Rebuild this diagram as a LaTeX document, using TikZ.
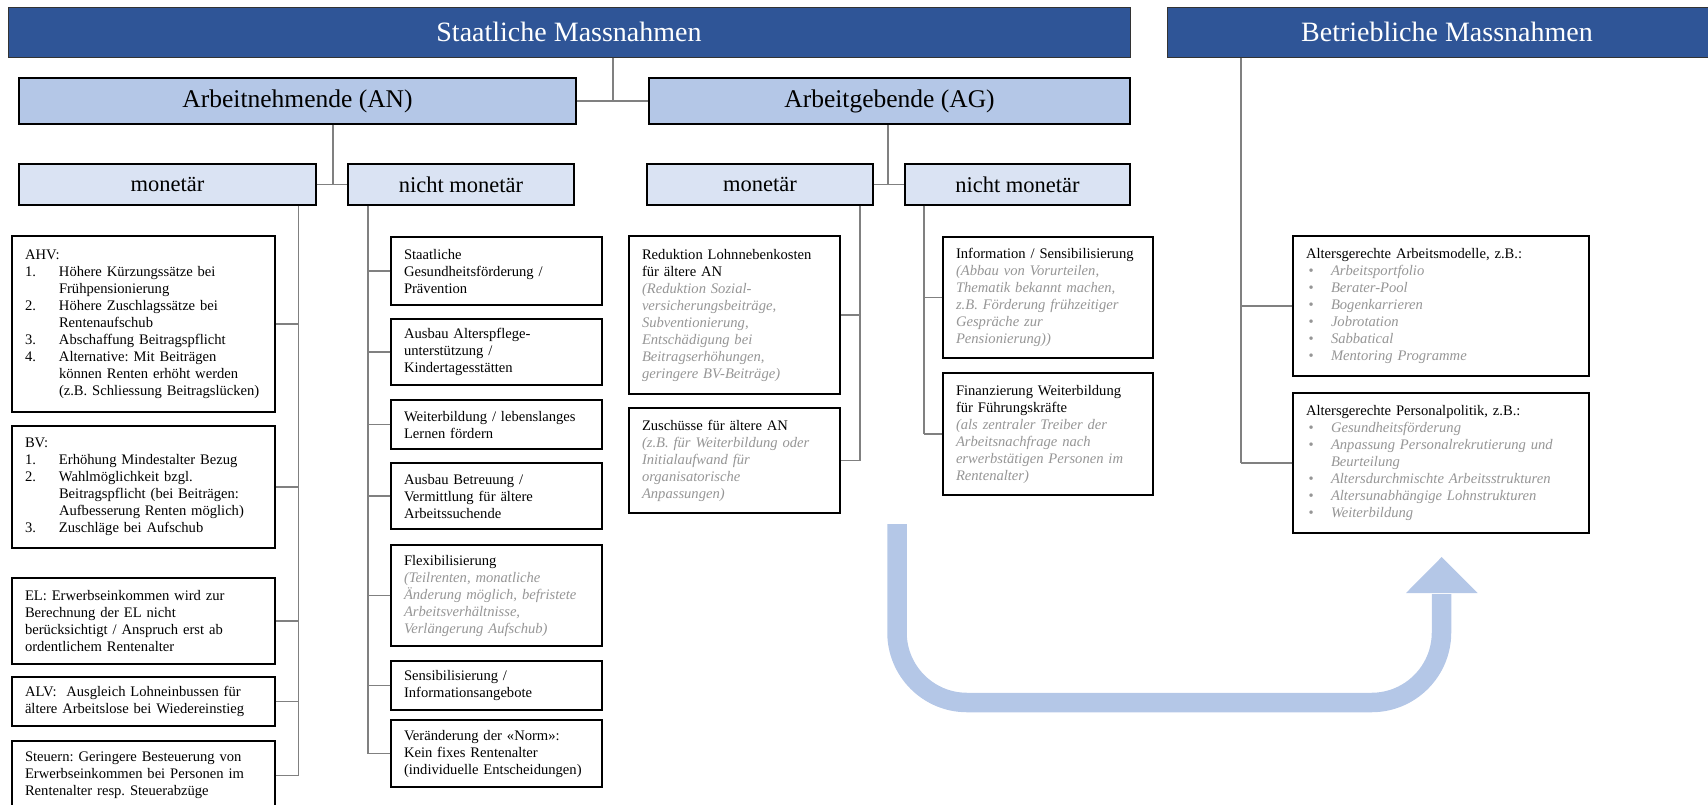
\documentclass[tikz,border=0pt]{standalone}
\usepackage{fontspec}
\setmainfont{Liberation Serif}
\definecolor{titleblue}{RGB}{47, 85, 151}
\definecolor{groupblue}{RGB}{180, 199, 231}
\definecolor{subblue}{RGB}{218, 227, 243}
\definecolor{notegray}{RGB}{150, 150, 150}
\definecolor{linegray}{RGB}{128, 128, 128}
\usepackage{tikz}
\frenchspacing
\newcommand{\grnote}[1]{{\color{notegray}\itshape #1}}
\newcommand{\numitem}[2]{\par\hangindent=34pt\hangafter=1\makebox[34pt][l]{#1}#2\par}
\newcommand{\dotitem}[1]{\par\hangindent=25pt\hangafter=1\makebox[25pt][l]{\hspace{2.5pt}{\color{notegray}\textbullet}}\grnote{#1}\par}

\begin{document}
\begin{tikzpicture}[x=1pt, y=-1pt,
  titlebox/.style={draw=black!80, line width=1pt, fill=titleblue, text=white, font=\fontsize{28}{30}\selectfont, inner sep=0pt},
  groupbox/.style={draw=black, line width=1.4pt, fill=groupblue, font=\fontsize{25.5}{28}\selectfont, inner sep=0pt},
  subbox/.style={draw=black, line width=1.4pt, fill=subblue, font=\fontsize{22.5}{25}\selectfont, inner sep=0pt},
  itembox/.style={draw=black, line width=1.5pt, fill=white, align=left, font=\fontsize{14.6}{17}\selectfont, inner xsep=13pt, inner ysep=0pt},
  conn/.style={draw=linegray, line width=1.1pt},
  uturn/.style={draw=groupblue, line width=19.5pt, rounded corners=70pt}
]
  \useasboundingbox (0,0) rectangle (1708,804);
  \clip (0,0) rectangle (1708,804);

  % Ebenen oben
  \node[titlebox, minimum width=1122pt, minimum height=50pt] (staat) at (569,32) {Staatliche Massnahmen};
  \node[titlebox, minimum width=560pt, minimum height=50pt] (betrieb) at (1447,32) {Betriebliche Massnahmen};

  \node[groupbox, minimum width=557pt, minimum height=46pt] (an) at (297.5,101) {Arbeitnehmende (AN)};
  \node[groupbox, minimum width=481pt, minimum height=46pt] (ag) at (889.5,101) {Arbeitgebende (AG)};

  \node[subbox, minimum width=297pt, minimum height=41pt] (anm) at (167.5,184.5) {monetär};
  \node[subbox, minimum width=226pt, minimum height=41pt] (annm) at (461,184.5) {nicht monetär};
  \node[subbox, minimum width=226pt, minimum height=41pt] (agm) at (760,184.5) {monetär};
  \node[subbox, minimum width=225pt, minimum height=41pt] (agnm) at (1017.5,184.5) {nicht monetär};

  \coordinate (sjoin) at (613,101);
  \draw[conn] (sjoin |- staat.south) -- (sjoin);
  \draw[conn] (an.east) -- (ag.west);
  \coordinate (anjoin) at (333,184.5);
  \draw[conn] (anjoin |- an.south) -- (anjoin);
  \draw[conn] (anm.east) -- (annm.west);
  \coordinate (agjoin) at (888,184.5);
  \draw[conn] (agjoin |- ag.south) -- (agjoin);
  \draw[conn] (agm.east) -- (agnm.west);

  % AN monetär
  \node[itembox, text width=237pt, minimum height=176pt] (ahv) at (143.5,324) {AHV:
    \numitem{1.}{Höhere Kürzungssätze bei\newline Frühpensionierung}
    \numitem{2.}{Höhere Zuschlagssätze bei\newline Rentenaufschub}
    \numitem{3.}{Abschaffung Beitragspflicht}
    \numitem{4.}{Alternative: Mit Beiträgen\newline können Renten erhöht werden\newline (z.B. Schliessung Beitragslücken)}};
  \node[itembox, text width=237pt, minimum height=122pt] (bv) at (143.5,487) {BV:
    \numitem{1.}{Erhöhung Mindestalter Bezug}
    \numitem{2.}{Wahlmöglichkeit bzgl.\newline Beitragspflicht (bei Beiträgen:\newline Aufbesserung Renten möglich)}
    \numitem{3.}{Zuschläge bei Aufschub}};
  \node[itembox, text width=237pt, minimum height=86pt] (el) at (143.5,621) {EL: Erwerbseinkommen wird zur\\Berechnung der EL nicht\\berücksichtigt / Anspruch erst ab\\ordentlichem Rentenalter};
  \node[itembox, text width=237pt, minimum height=49pt] (alv) at (143.5,701.5) {ALV:\ \ Ausgleich Lohneinbussen für\\ältere Arbeitslose bei Wiedereinstieg};
  \node[itembox, text width=237pt, minimum height=69pt] (steuern) at (143.5,775.5) {Steuern: Geringere Besteuerung von\\Erwerbseinkommen bei Personen im\\Rentenalter resp. Steuerabzüge};

  \coordinate (anmtrunk) at (298.5,0);
  \draw[conn] (anmtrunk |- anm.south) -- (anmtrunk |- steuern.east);
  \foreach \b in {ahv,bv,el,alv,steuern}
    \draw[conn] (\b.east) -- (\b.east -| anmtrunk);

  % AN nicht monetär
  \node[itembox, text width=185pt, minimum height=68pt] (stges) at (496.5,271) {Staatliche\\Gesundheitsförderung /\\Prävention};
  \node[itembox, text width=185pt, minimum height=66pt] (altpfl) at (496.5,352) {Ausbau Alterspflege-\\unterstützung /\\Kindertagesstätten};
  \node[itembox, text width=185pt, minimum height=49pt] (weiterb) at (496.5,424.5) {Weiterbildung / lebenslanges\\Lernen fördern};
  \node[itembox, text width=185pt, minimum height=66pt] (betreu) at (496.5,496) {Ausbau Betreuung /\\Vermittlung für ältere\\Arbeitssuchende};
  \node[itembox, text width=185pt, minimum height=101pt] (flex) at (496.5,595.5) {Flexibilisierung\\\grnote{(Teilrenten, monatliche\\Änderung möglich, befristete\\Arbeitsverhältnisse,\\Verlängerung Aufschub)}};
  \node[itembox, text width=185pt, minimum height=49pt] (sensib) at (496.5,685.5) {Sensibilisierung /\\Informationsangebote};
  \node[itembox, text width=185pt, minimum height=67pt] (norm) at (496.5,753.5) {Veränderung der «Norm»:\\Kein fixes Rentenalter\\(individuelle Entscheidungen)};

  \coordinate (annmtrunk) at (368,0);
  \draw[conn] (annmtrunk |- annm.south) -- (annmtrunk |- norm.west);
  \foreach \b in {stges,altpfl,weiterb,betreu,flex,sensib,norm}
    \draw[conn] (\b.west) -- (\b.west -| annmtrunk);

  % AG monetär
  \node[itembox, text width=185pt, minimum height=158pt] (redukt) at (734.5,315) {Reduktion Lohnnebenkosten\\für ältere AN\\\grnote{(Reduktion Sozial-\\versicherungsbeiträge,\\Subventionierung,\\Entschädigung bei\\Beitragserhöhungen,\\geringere BV-Beiträge)}};
  \node[itembox, text width=185pt, minimum height=105pt] (zusch) at (734.5,460.5) {Zuschüsse für ältere AN\\\grnote{(z.B. für Weiterbildung oder\\Initialaufwand für\\organisatorische\\Anpassungen)}};

  \coordinate (agmtrunk) at (860,0);
  \draw[conn] (agmtrunk |- agm.south) -- (agmtrunk |- zusch.east);
  \foreach \b in {redukt,zusch}
    \draw[conn] (\b.east) -- (\b.east -| agmtrunk);

  % AG nicht monetär
  \node[itembox, text width=184pt, minimum height=121pt] (info) at (1048,297.5) {Information / Sensibilisierung\\\grnote{(Abbau von Vorurteilen,\\Thematik bekannt machen,\\z.B. Förderung frühzeitiger\\Gespräche zur\\Pensionierung))}};
  \node[itembox, text width=184pt, minimum height=122pt] (finanz) at (1048,434) {Finanzierung Weiterbildung\\für Führungskräfte\\\grnote{(als zentraler Treiber der\\Arbeitsnachfrage nach\\erwerbstätigen Personen im\\Rentenalter)}};

  \coordinate (agnmtrunk) at (924,0);
  \draw[conn] (agnmtrunk |- agnm.south) -- (agnmtrunk |- finanz.west);
  \foreach \b in {info,finanz}
    \draw[conn] (\b.west) -- (\b.west -| agnmtrunk);

  % Betriebliche Massnahmen
  \node[itembox, text width=270pt, minimum height=140pt] (modelle) at (1441,306) {Altersgerechte Arbeitsmodelle, z.B.:
    \dotitem{Arbeitsportfolio}
    \dotitem{Berater-Pool}
    \dotitem{Bogenkarrieren}
    \dotitem{Jobrotation}
    \dotitem{Sabbatical}
    \dotitem{Mentoring Programme}};
  \node[itembox, text width=270pt, minimum height=140pt] (politik) at (1441,463) {Altersgerechte Personalpolitik, z.B.:
    \dotitem{Gesundheitsförderung}
    \dotitem{Anpassung Personalrekrutierung und\newline Beurteilung}
    \dotitem{Altersdurchmischte Arbeitsstrukturen}
    \dotitem{Altersunabhängige Lohnstrukturen}
    \dotitem{Weiterbildung}};

  \coordinate (btrunk) at (1241,0);
  \draw[conn] (btrunk |- betrieb.south) -- (btrunk |- politik.west);
  \foreach \b in {modelle,politik}
    \draw[conn] (\b.west) -- (\b.west -| btrunk);

  % Pfeil
  \draw[uturn] (897,524) -- (897,702.5) -- (1441.5,702.5) -- (1441.5,594);
  \fill[groupblue] (1406,593) -- (1441.7,557) -- (1477.7,593) -- cycle;
\end{tikzpicture}
\end{document}
